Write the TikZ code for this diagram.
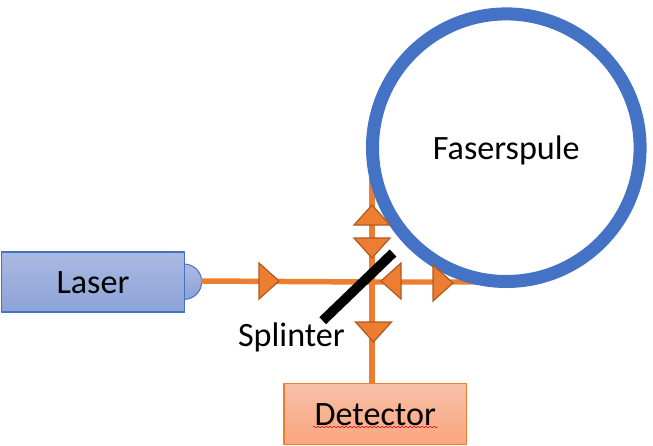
\documentclass[tikz,border=0pt]{standalone}
\usepackage{fontspec}
\setmainfont{Carlito}
\usetikzlibrary{decorations.pathmorphing}
\definecolor{ringblue}{HTML}{4472C4}
\definecolor{fibreorange}{HTML}{ED7D31}
\definecolor{tipborder}{HTML}{AE5A21}
\definecolor{laserA}{HTML}{AABAE1}
\definecolor{laserB}{HTML}{8CA2D8}
\definecolor{detA}{HTML}{F8C0A7}
\definecolor{detB}{HTML}{F9A67F}
\tikzset{
  label text/.style={font=\fontsize{25.6}{30}\selectfont, text=black, text height=17.4pt, text depth=0pt},
  fibre/.style={line width=4.1pt, draw=fibreorange},
  dirmark/.style={line width=0.9pt, draw=tipborder, fill=fibreorange, line join=miter},
}

\begin{document}
\begin{tikzpicture}[x=0.75pt, y=-0.75pt, line join=round]
        \useasboundingbox (0,0) rectangle (653,446);

        % Laser mit halbrundem Austritt
        \draw[ringblue, line width=0.75pt, top color=laserA, bottom color=laserB] (184,299.4) arc (90:-90:17.7);
        \node[draw=ringblue, line width=0.9pt, minimum width=137.25pt, minimum height=45pt, inner sep=0pt, outer sep=0pt, top color=laserA, bottom color=laserB, label text] (laser) at (93,282) {Laser};

        % Detector
        \node[draw=fibreorange, line width=0.9pt, minimum width=137pt, minimum height=45.75pt, inner sep=0pt, outer sep=0pt, top color=detA, bottom color=detB, label text] (detector) at (375.3,413.8) {Detector};
        \draw[red!85!black, line width=0.4pt, decorate, decoration={snake, amplitude=0.5pt, segment length=3pt}] (313,427) -- (437.5,427);

        % Strahlengang
        \coordinate (dome) at (201,281);
        \coordinate (cross) at (372,282);
        \coordinate (coilfoot) at (480,282);
        \coordinate (coiltop) at (372,170);
        \draw[fibre] (dome) -- (cross) -- (coilfoot);
        \draw[fibre] (detector.north -| cross) -- (coiltop);

        % Faserspule
        \node[circle, draw=ringblue, fill=white, line width=9.75pt, minimum size=200.7pt, inner sep=0pt, label text] (coil) at (506.3,147.7) {Faserspule};

        % Richtungspfeile
        \foreach \px/\py/\ang in {269/281/0, 443/283/0, 391/281/180, 372/215/90, 372/248/-90, 373.5/332/-90}
            \draw[dirmark, shift={(\px,\py)}, rotate=\ang] (-10,-18) -- (10,0) -- (-10,18) -- cycle;

        % Splinter
        \coordinate (splitA) at (322.7,320.7);
        \coordinate (splitB) at (393,253);
        \draw[black, line width=7.25pt] (splitA) -- (splitB);
        \node[label text, inner sep=0pt] (splinter) at (291.5,334.8) {Splinter};
    \end{tikzpicture}
\end{document}
